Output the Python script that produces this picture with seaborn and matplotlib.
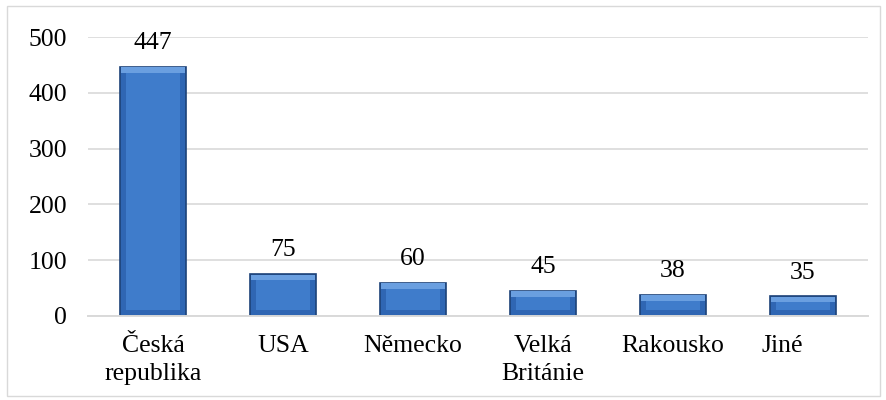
import matplotlib
matplotlib.use('Agg')
import matplotlib.pyplot as plt
import matplotlib.transforms as mtransforms
import pandas as pd
import seaborn as sns
from matplotlib.patches import Rectangle

countries = ['Česká\nrepublika', 'USA', 'Německo', 'Velká\nBritánie', 'Rakousko', 'Jiné']
counts = [447, 75, 60, 45, 38, 35]
yticks = [0, 100, 200, 300, 400, 500]

df = pd.DataFrame({'country': countries, 'count': counts})

sns.set_theme(style='white')
plt.rcParams['font.family'] = ['Liberation Serif', 'DejaVu Serif']

fig = plt.figure(figsize=(8.87, 4.0), dpi=100)
ax = fig.add_axes([0.0992, 0.21, 0.8794, 0.6975])

sns.barplot(data=df, x='country', y='count', ax=ax, color='#2f66b3',
            width=0.51, saturation=1, edgecolor='#1d4278', linewidth=1.2)

# bevel look: lighter inner face + top highlight, derived from each bar patch
px_x = 6.0 / 130.0          # ~6 px in x data units
px_y = 500.0 / 279.0        # data units per pixel in y
for p in list(ax.patches):
    x0, w, h = p.get_x(), p.get_width(), p.get_height()
    inset_x = px_x
    inset_y = min(6 * px_y, h * 0.3)
    ax.add_patch(Rectangle((x0 + inset_x, inset_y), w - 2 * inset_x, h - 2 * inset_y,
                           facecolor='#3f7ccb', edgecolor='none', zorder=p.get_zorder() + 0.1))
    ax.add_patch(Rectangle((x0 + 0.01, h - inset_y), w - 0.02, inset_y * 0.9,
                           facecolor='#6a9fe0', edgecolor='none', zorder=p.get_zorder() + 0.1))

# value labels
for i, v in enumerate(counts):
    ax.text(i, v + 23, str(v), ha='center', va='bottom', fontsize=18.5, color='black')

ax.set_ylim(0, 500)
ax.set_xlim(-0.5, 5.5)
ax.set_yticks(yticks)
ax.set_yticklabels([str(t) for t in yticks])
ax.tick_params(axis='y', length=0, pad=15, labelsize=18.5, labelcolor='black')
ax.tick_params(axis='x', length=0, pad=14, labelsize=18.5, labelcolor='black')
for lbl in ax.get_xticklabels():
    lbl.set_linespacing(1.35)
# last label sits left of its bar in the original
last = ax.get_xticklabels()[-1]
last.set_transform(last.get_transform() + mtransforms.ScaledTranslation(-0.21, 0, fig.dpi_scale_trans))
ax.set_xlabel('')
ax.set_ylabel('')
ax.yaxis.grid(True, color='#d9d9d9', linewidth=1.2)
ax.set_axisbelow(True)
for s in ['top', 'right', 'left']:
    ax.spines[s].set_visible(False)
ax.spines['bottom'].set_color('#d9d9d9')
ax.spines['bottom'].set_linewidth(1.4)

# outer chart border
fig.patches.append(Rectangle((0.008, 0.01), 0.984, 0.975, transform=fig.transFigure,
                             fill=False, edgecolor='#d9d9d9', linewidth=1))

fig.savefig('out.png', dpi=100)
